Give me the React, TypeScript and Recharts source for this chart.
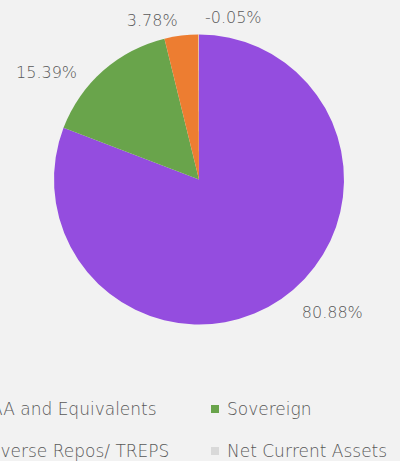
import { PieChart, Pie, Cell, Legend } from "recharts";

const categories = ["AAA and Equivalents", "Sovereign", "Reverse Repos/ TREPS", "Net Current Assets"];
const weights = [80.88, 15.39, 3.78, -0.05];
const colors = ["#944ddf", "#69a44b", "#ed7d31", "#d9d9d9"];

// Excel-style label placement: angle shift (deg) and distance beyond the rim
const labelShift = [10.6, 13.6, 9.4, -12];
const labelGap = [43, 41, 21, 21];

const FONT = "'DejaVu Sans', sans-serif";

const data = categories.map((name, i) => ({
  name,
  value: weights[i],
  size: Math.abs(weights[i]),
}));

const RAD = Math.PI / 180;

const renderLabel = (p: any) => {
  const i = p.index;
  const a = (p.midAngle + labelShift[i]) * RAD;
  const r = p.outerRadius + labelGap[i];
  const x = p.cx + r * Math.cos(a);
  const y = p.cy - r * Math.sin(a);
  return (
    <text
      x={x}
      y={y}
      fill="#595959"
      fontSize={16}
      fontWeight={200}
      fontFamily={FONT}
      textAnchor="middle"
      dominantBaseline="central"
    >
      {weights[i].toFixed(2)}%
    </text>
  );
};

const renderLegend = () => (
  <div
    style={{
      position: "relative",
      width: 486,
      marginLeft: -48,
      display: "grid",
      gridTemplateColumns: "248px 238px",
      rowGap: 18,
      fontSize: 17,
      fontWeight: 200,
      color: "#595959",
      fontFamily: FONT,
    }}
  >
    {categories.map((c, i) => (
      <div key={c} style={{ display: "flex", alignItems: "center", height: 24, whiteSpace: "nowrap" }}>
        <span style={{ width: 8, height: 8, background: colors[i], marginLeft: 11, marginRight: 8 }} />
        {c}
      </div>
    ))}
  </div>
);

export default function App() {
  return (
    <div
      style={{
        position: "fixed",
        left: 0,
        top: 0,
        width: 400,
        height: 461,
        background: "#f2f2f2",
        overflow: "hidden",
        fontFamily: FONT,
      }}
    >
      <PieChart width={400} height={461} margin={{ top: 0, right: 0, bottom: 0, left: 0 }}>
        <Pie
          data={data}
          dataKey="size"
          nameKey="name"
          cx={199}
          cy={179.5}
          outerRadius={145}
          startAngle={90}
          endAngle={-270}
          stroke="none"
          label={renderLabel}
          labelLine={false}
          isAnimationActive={false}
        >
          {data.map((d, i) => (
            <Cell key={d.name} fill={colors[i]} />
          ))}
        </Pie>
        <Legend
          content={renderLegend}
          verticalAlign="bottom"
          wrapperStyle={{ left: 0, bottom: -2, width: 400 }}
        />
      </PieChart>
    </div>
  );
}
